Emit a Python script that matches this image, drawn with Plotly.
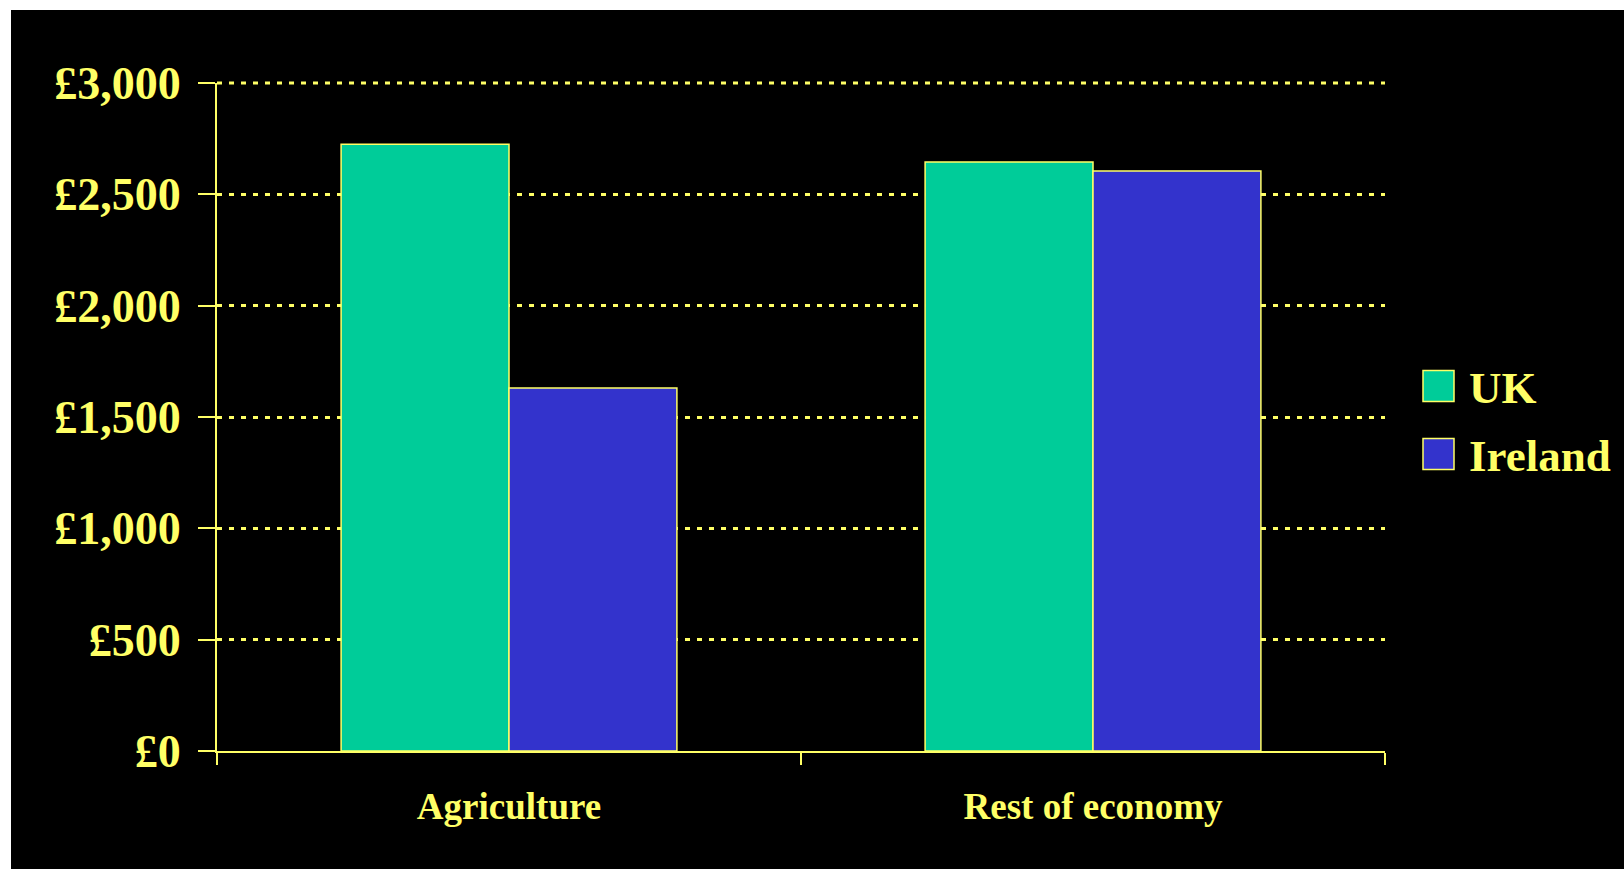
import plotly.graph_objects as go

categories = ["Agriculture", "Rest of economy"]
series_names = ["UK", "Ireland"]
uk_values = [2725, 2645]
ireland_values = [1630, 2605]
y_tick_values = [0, 500, 1000, 1500, 2000, 2500, 3000]
y_tick_labels = ["£0", "£500", "£1,000", "£1,500", "£2,000", "£2,500", "£3,000"]

YELLOW = "#FFFF66"
COLORS = ["#00CC99", "#3333CC"]
FONT = "Liberation Serif"
GRID_DASH = "5px,7px"

W, H = 1624, 869
L, R, T, B = 217, 1385, 83, 751  # plot area in pixels


def px_x(p):
    return (p - L) / (R - L)


def px_y(p):
    return (B - p) / (B - T)


fig = go.Figure()
for name, vals, col in zip(series_names, [uk_values, ireland_values], COLORS):
    fig.add_trace(go.Bar(
        x=categories, y=vals, name=name,
        marker=dict(color=col, line=dict(color=YELLOW, width=1.5)),
        showlegend=False,
    ))

shapes = [dict(type="rect", xref="paper", yref="paper",
               x0=px_x(11), x1=px_x(W + 5), y0=px_y(10), y1=px_y(H + 5),
               fillcolor="black", line=dict(width=0), layer="below")]
# top gridline (plotly hides the gridline at the range edge); paper ref avoids clipping
shapes.append(dict(type="line", xref="paper", yref="paper", x0=0, x1=1,
                   y0=1, y1=1,
                   line=dict(color=YELLOW, width=3, dash=GRID_DASH), layer="above"))
annotations = []
legend_centers = [386, 454]
for name, col, cy in zip(series_names, COLORS, legend_centers):
    shapes.append(dict(type="rect", xref="paper", yref="paper",
                       x0=px_x(1423), x1=px_x(1454),
                       y0=px_y(cy + 15.5), y1=px_y(cy - 15.5),
                       fillcolor=col, line=dict(color=YELLOW, width=1.5)))
    annotations.append(dict(xref="paper", yref="paper", x=px_x(1467), y=px_y(cy + 2),
                            xanchor="left", yanchor="middle", showarrow=False,
                            text="<b>%s</b>" % name,
                            font=dict(family=FONT, size=45, color=YELLOW)))

fig.update_layout(
    width=W, height=H,
    margin=dict(l=L, r=W - R, t=T, b=H - B, pad=0),
    paper_bgcolor="white", plot_bgcolor="black",
    barmode="group", bargap=0.425, bargroupgap=0,
    shapes=shapes, annotations=annotations,
    font=dict(family=FONT, color=YELLOW),
)
fig.update_xaxes(
    showline=True, linecolor=YELLOW, linewidth=2,
    ticks="outside", tickson="boundaries", ticklen=12, tickwidth=2, tickcolor=YELLOW,
    tickfont=dict(family=FONT, size=37, color=YELLOW, weight="bold"),
    ticklabelstandoff=22, showgrid=False,
)
fig.update_yaxes(
    range=[0, 3000], tickvals=y_tick_values, ticktext=y_tick_labels,
    showline=True, linecolor=YELLOW, linewidth=2,
    ticks="outside", ticklen=17, tickwidth=2, tickcolor=YELLOW,
    tickfont=dict(family=FONT, size=46, color=YELLOW, weight="bold"),
    ticklabelstandoff=8,
    showgrid=True, gridcolor=YELLOW, gridwidth=3, griddash=GRID_DASH,
    zeroline=False,
)
fig.write_html("out.html")
